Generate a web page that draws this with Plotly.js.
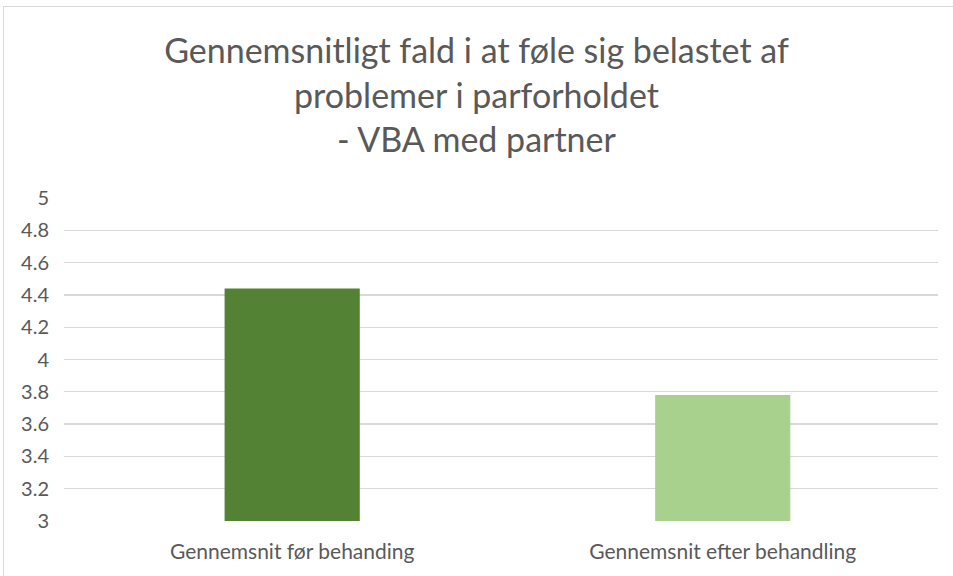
<!DOCTYPE html>
<html>
<head>
<meta charset="utf-8">
<script src="https://cdn.plot.ly/plotly-3.0.1.min.js"></script>
<style>
  body { margin: 0; background: #fff; }
  #frame { position: absolute; left: 3px; top: 6px; width: 960px; height: 580px; border: 1px solid #d9d9d9; pointer-events: none; }
</style>
</head>
<body>
<div id="chart" style="width:953px;height:576px;"></div>
<div id="frame"></div>
<script>
const categories = ['Gennemsnit før behanding', 'Gennemsnit efter behandling'];
const averages = [4.44, 3.78];
const barColors = ['#548235', '#a9d18e'];
const yTicks = [3, 3.2, 3.4, 3.6, 3.8, 4, 4.2, 4.4, 4.6, 4.8, 5];

const font = 'Lato, "Open Sans", sans-serif';

const data = [{
    x: categories,
    y: averages,
    type: 'bar',
    marker: { color: barColors },
    hoverinfo: 'none'
}];

const layout = {
    width: 953,
    height: 576,
    margin: { l: 64, r: 15, t: 198, b: 55 },
    paper_bgcolor: 'rgba(0,0,0,0)',
    plot_bgcolor: '#fff',
    bargap: 0.686,
    showlegend: false,
    font: { family: font, color: '#595959' },
    title: {
        text: 'Gennemsnitligt fald i at føle sig belastet af<br>problemer i parforholdet<br>- VBA med partner',
        font: { family: font, size: 34, color: '#595959' },
        x: 0.5,
        xanchor: 'center',
        y: 0.89,
        yanchor: 'top'
    },
    xaxis: {
        type: 'category',
        range: [-0.53, 1.5],
        showgrid: false,
        showline: false,
        zeroline: false,
        ticks: 'outside',
        ticklen: 12,
        tickcolor: 'rgba(0,0,0,0)',
        tickfont: { family: font, size: 21, color: '#595959' }
    },
    yaxis: {
        range: [3, 5],
        tickvals: yTicks,
        ticktext: yTicks.map(String),
        showgrid: true,
        gridcolor: '#d9d9d9',
        gridwidth: 1.3,
        zeroline: false,
        showline: false,
        ticks: 'outside',
        ticklen: 10,
        tickcolor: 'rgba(0,0,0,0)',
        tickfont: { family: font, size: 20, color: '#595959' }
    }
};

Plotly.newPlot('chart', data, layout, { displayModeBar: false, staticPlot: true });
</script>
</body>
</html>
